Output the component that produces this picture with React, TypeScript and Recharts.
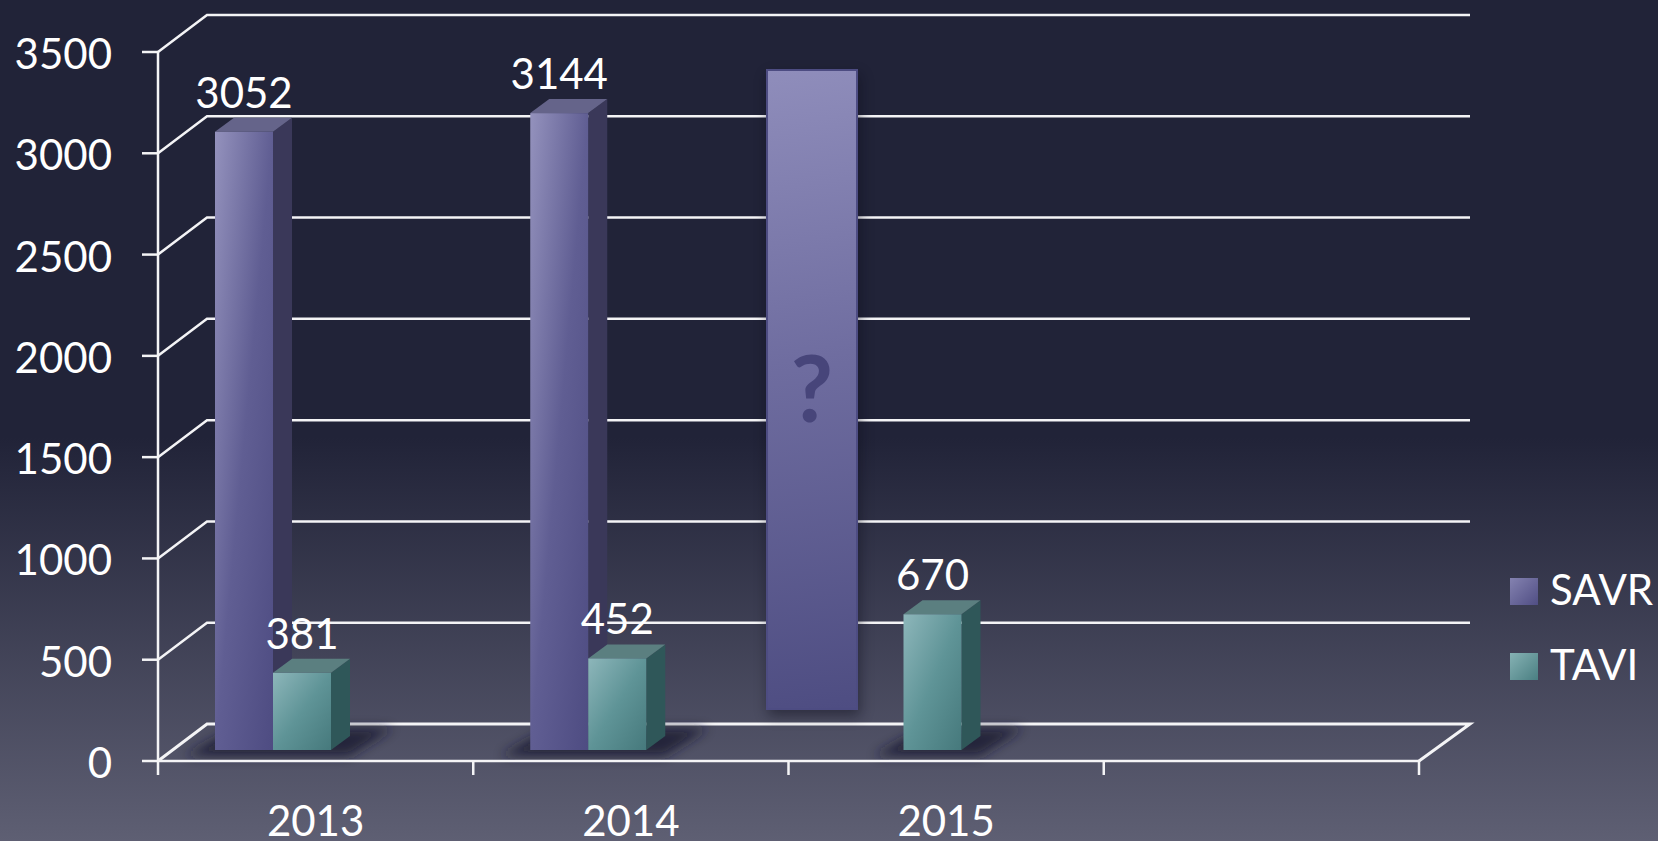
import { Bar, BarChart, CartesianGrid, LabelList, Legend, XAxis, YAxis } from "recharts";

const categories = ["2013", "2014", "2015", " "];
const savrValues = [3052, 3144, null, null];
const taviValues = [381, 452, 670, null];
const yTicks = [0, 500, 1000, 1500, 2000, 2500, 3000, 3500];

const data = categories.map((year, i) => ({ year, SAVR: savrValues[i], TAVI: taviValues[i] }));

const FONT = "Lato, Carlito, sans-serif";
const LINE = "#f4f4f6";
const PLOT_LEFT = 158;
const PLOT_RIGHT = 1419;
const PLOT_BOTTOM = 761;
const BAND = (PLOT_RIGHT - PLOT_LEFT) / categories.length;

// the bars stand on the floor of the fake 3D box, not on the front axis
const BAR_SHIFT_X = -43;
const BAR_SHIFT_Y = -11;
const DEPTH_X = 19;
const DEPTH_Y = 14;
const WALL_X = 50;
const WALL_Y = 37;

const faces: Record<string, { side: string; top: string }> = {
  SAVR: { side: "#3a3859", top: "#65648a" },
  TAVI: { side: "#2f5759", top: "#5b7f80" },
};

function Box3D(props: any) {
  const { x, y, width, height, name, withShadow } = props;
  if (!height || height <= 0) return null;
  const left = x + BAR_SHIFT_X;
  const top = y + BAR_SHIFT_Y;
  const right = left + width;
  const base = top + height;
  const face = faces[name];
  const shadowEnd = right + (name === "SAVR" ? width : 0);
  return (
    <g>
      {withShadow && (
        <polygon
          points={`${left - 30},${base + 6} ${shadowEnd + 18},${base + 6} ${shadowEnd + 62},${base - 22} ${left + 20},${base - 22}`}
          fill="#1c1c30"
          fillOpacity={0.8}
          filter="url(#floorShadow)"
        />
      )}
      <polygon
        points={`${right},${top} ${right + DEPTH_X},${top - DEPTH_Y} ${right + DEPTH_X},${base - DEPTH_Y} ${right},${base}`}
        fill={face.side}
      />
      <polygon
        points={`${left},${top} ${left + DEPTH_X},${top - DEPTH_Y} ${right + DEPTH_X},${top - DEPTH_Y} ${right},${top}`}
        fill={face.top}
      />
      <rect x={left} y={top} width={width} height={height} fill={`url(#front${name})`} />
    </g>
  );
}

function BarValue(props: any) {
  const { x, y, width, value } = props;
  if (value == null) return null;
  return (
    <text x={x + width / 2 + BAR_SHIFT_X} y={y + BAR_SHIFT_Y - 24} textAnchor="middle" fill="#fff" fontSize={42} fontFamily={FONT}>
      {value}
    </text>
  );
}

function WallLine(props: any) {
  const { x1, y1, x2, index } = props;
  const isFloor = Math.abs(y1 - PLOT_BOTTOM) < 1;
  const backY = y1 - WALL_Y;
  const end = isFloor ? ` ${x2},${y1}` : "";
  return (
    <polyline
      key={index}
      points={`${x1},${y1} ${x1 + WALL_X - 1},${backY} ${x2 + WALL_X + 1},${backY}${end}`}
      fill="none"
      stroke={LINE}
      strokeWidth={isFloor ? 3 : 2.5}
    />
  );
}

function YearTick(props: any) {
  const { x, payload, index } = props;
  const isLast = index === categories.length - 1;
  return (
    <g>
      <line x1={x - BAND / 2} x2={x - BAND / 2} y1={PLOT_BOTTOM} y2={PLOT_BOTTOM + 14} stroke={LINE} strokeWidth={2.5} />
      {isLast && <line x1={x + BAND / 2} x2={x + BAND / 2} y1={PLOT_BOTTOM} y2={PLOT_BOTTOM + 14} stroke={LINE} strokeWidth={2.5} />}
      <text x={x} y={PLOT_BOTTOM + 75} textAnchor="middle" fill="#fff" fontSize={42} fontFamily={FONT}>
        {payload.value}
      </text>
    </g>
  );
}

function ValueTick(props: any) {
  const { x, y, payload } = props;
  return (
    <text x={x} y={y + 17} textAnchor="end" fill="#fff" fontSize={42} fontFamily={FONT}>
      {payload.value}
    </text>
  );
}

function LegendList(props: any) {
  const swatches: Record<string, string> = {
    SAVR: "linear-gradient(135deg, #8482b0, #504e84)",
    TAVI: "linear-gradient(135deg, #86b2b4, #4a7f82)",
  };
  return (
    <div>
      {props.payload.map((entry: any) => (
        <div key={entry.value} style={{ display: "flex", alignItems: "center", height: 75, color: "#fff", fontSize: 42, fontFamily: FONT }}>
          <span style={{ width: 28, height: 27, marginRight: 12, background: swatches[entry.value] }} />
          <span style={{ position: "relative", top: -3 }}>{entry.value}</span>
        </div>
      ))}
    </div>
  );
}

export default function App() {
  return (
    <div
      style={{
        position: "absolute",
        left: 0,
        top: 0,
        width: 1658,
        height: 841,
        overflow: "hidden",
        background: "linear-gradient(180deg, #212338 0%, #212338 52%, #5e5f73 100%)",
      }}
    >
      <BarChart width={1658} height={841} data={data} barSize={58} barGap={0} margin={{ top: 52, right: 239, bottom: 0, left: 0 }}>
        <defs>
          <linearGradient id="frontSAVR" x1="0" y1="0" x2="1" y2="1">
            <stop offset="0" stopColor="#9492bd" />
            <stop offset="0.5" stopColor="#605e93" />
            <stop offset="1" stopColor="#4e4c82" />
          </linearGradient>
          <linearGradient id="frontTAVI" x1="0" y1="0" x2="1" y2="1">
            <stop offset="0" stopColor="#8db6ba" />
            <stop offset="0.5" stopColor="#5f9497" />
            <stop offset="1" stopColor="#46797c" />
          </linearGradient>
          <filter id="floorShadow" x="-30%" y="-60%" width="160%" height="220%">
            <feGaussianBlur stdDeviation="6" />
          </filter>
        </defs>
        <CartesianGrid vertical={false} horizontal={(p: any) => <WallLine {...p} />} />
        <XAxis
          dataKey="year"
          interval={0}
          height={80}
          tickLine={false}
          axisLine={{ stroke: LINE, strokeWidth: 2.5 }}
          tick={(p: any) => <YearTick {...p} />}
        />
        <YAxis
          width={158}
          domain={[0, 3500]}
          ticks={yTicks}
          tickSize={16}
          tickMargin={30}
          axisLine={{ stroke: LINE, strokeWidth: 2.5 }}
          tickLine={{ stroke: LINE, strokeWidth: 2.5 }}
          tick={(p: any) => <ValueTick {...p} />}
        />
        <Bar
          dataKey="SAVR"
          fill="#605e93"
          isAnimationActive={false}
          shape={(p: any) => <Box3D {...p} name="SAVR" withShadow />}
        >
          <LabelList dataKey="SAVR" content={(p: any) => <BarValue {...p} />} />
        </Bar>
        <Bar
          dataKey="TAVI"
          fill="#5f9497"
          isAnimationActive={false}
          shape={(p: any) => <Box3D {...p} name="TAVI" withShadow={p.payload.SAVR == null} />}
        >
          <LabelList dataKey="TAVI" content={(p: any) => <BarValue {...p} />} />
        </Bar>
        <Legend
          layout="vertical"
          align="center"
          verticalAlign="middle"
          wrapperStyle={{ left: 1510, top: 554, width: 148, height: 150 }}
          content={(p: any) => <LegendList {...p} />}
        />
      </BarChart>
      {/* the "?" placard laid over the chart for the unknown 2015 SAVR figure */}
      <div
        style={{
          position: "absolute",
          left: 766,
          top: 69,
          width: 88,
          height: 637,
          border: "2px solid #4d4c82",
          background: "linear-gradient(172deg, #8f8dbb 0%, #6f6da0 45%, #4e4d82 100%)",
          boxShadow: "2px 6px 12px rgba(10,10,25,0.45)",
          display: "flex",
          alignItems: "center",
          justifyContent: "center",
          paddingBottom: 0,
          color: "#47457a",
          fontFamily: FONT,
          fontWeight: 700,
          fontSize: 92,
        }}
      >
        <span style={{ position: "relative", top: -3 }}>?</span>
      </div>
    </div>
  );
}
